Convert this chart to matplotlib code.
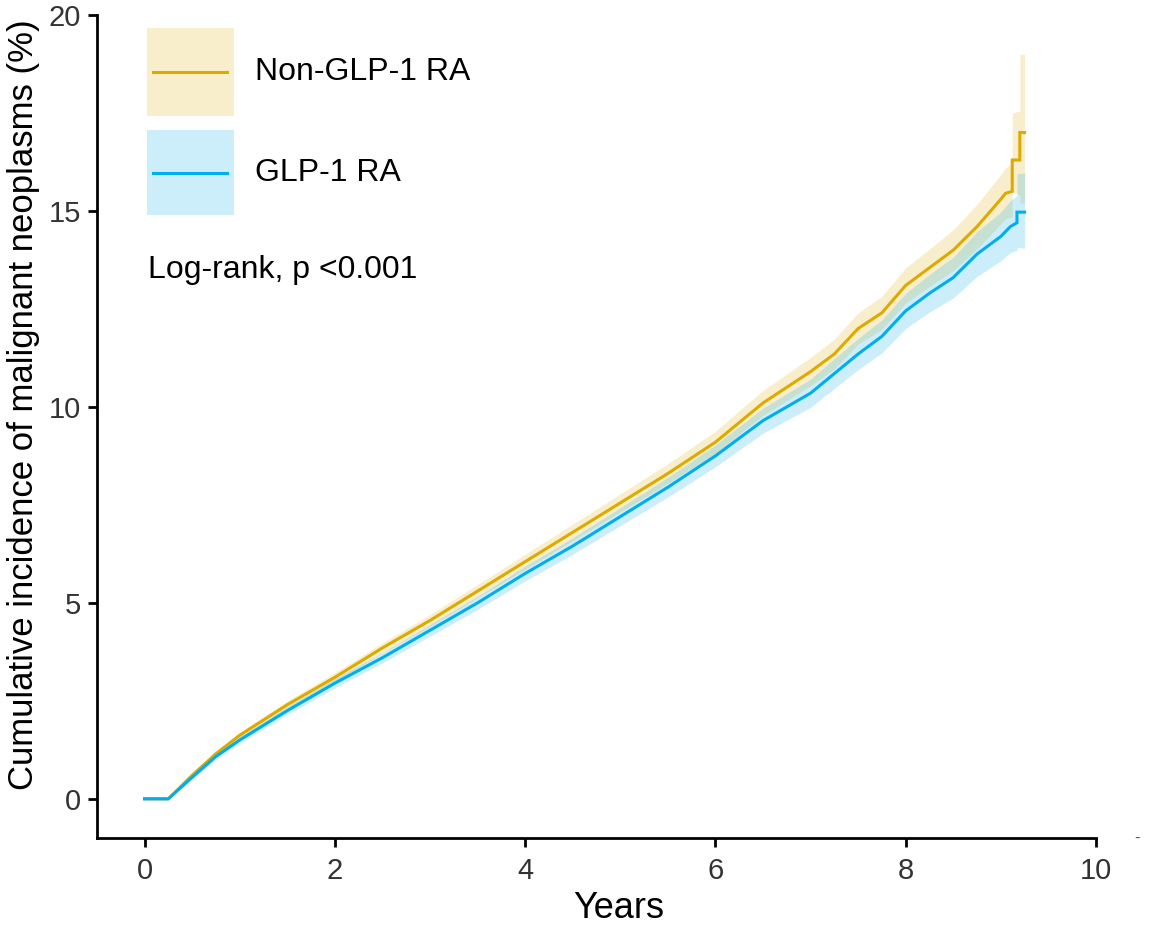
import matplotlib
matplotlib.use("Agg")
import matplotlib.pyplot as plt
from matplotlib.patches import Rectangle
from matplotlib.lines import Line2D

plt.rcParams['font.family'] = ['Liberation Sans', 'DejaVu Sans']

# ---- data ----
groups = ["Non-GLP-1 RA", "GLP-1 RA"]
colors = ["#DDAA00", "#00AEEF"]

t_non = [0, 0.25, 0.5, 0.75, 1, 1.5, 2, 2.5, 3, 3.5, 4, 4.5, 5, 5.5, 6, 6.25, 6.5, 6.75,
         7, 7.25, 7.5, 7.75, 8, 8.25, 8.5, 8.75, 9, 9.05, 9.12, 9.12, 9.2, 9.2, 9.25]
y_non = [0, 0, 0.6, 1.15, 1.62, 2.4, 3.1, 3.85, 4.55, 5.3, 6.05, 6.8, 7.55, 8.3, 9.1, 9.6,
         10.1, 10.5, 10.9, 11.35, 12.0, 12.4, 13.1, 13.55, 14.0, 14.6, 15.3, 15.45, 15.5,
         16.3, 16.3, 17.0, 17.0]
lo_non = [0, 0, 0.55, 1.08, 1.54, 2.3, 2.98, 3.72, 4.4, 5.13, 5.86, 6.59, 7.32, 8.05, 8.82,
          9.3, 9.78, 10.16, 10.54, 10.97, 11.6, 11.98, 12.65, 13.07, 13.48, 14.03, 14.67,
          14.8, 14.85, 15.5, 15.4, 15.2, 15.2]
hi_non = [0, 0, 0.65, 1.22, 1.7, 2.5, 3.22, 3.98, 4.7, 5.47, 6.24, 7.01, 7.78, 8.55, 9.38,
          9.9, 10.42, 10.84, 11.26, 11.73, 12.4, 12.82, 13.55, 14.03, 14.52, 15.17, 15.93,
          16.1, 16.2, 17.5, 17.55, 19.0, 19.0]

t_glp = [0, 0.25, 0.5, 0.75, 1, 1.5, 2, 2.5, 3, 3.5, 4, 4.5, 5, 5.5, 6, 6.25, 6.5, 6.75,
         7, 7.25, 7.5, 7.75, 8, 8.25, 8.5, 8.75, 9, 9.1, 9.17, 9.17, 9.25]
y_glp = [0, 0, 0.55, 1.08, 1.5, 2.25, 2.95, 3.6, 4.3, 5.0, 5.75, 6.45, 7.2, 7.95, 8.75, 9.2,
         9.65, 10.0, 10.35, 10.85, 11.35, 11.8, 12.45, 12.9, 13.3, 13.9, 14.35, 14.6, 14.7,
         14.97, 14.97]
lo_glp = [0, 0, 0.5, 1.01, 1.42, 2.15, 2.83, 3.47, 4.15, 4.83, 5.56, 6.24, 6.97, 7.7, 8.47,
          8.9, 9.33, 9.66, 9.99, 10.47, 10.95, 11.38, 12.0, 12.42, 12.78, 13.33, 13.73,
          13.94, 14.0, 14.07, 14.05]
hi_glp = [0, 0, 0.6, 1.15, 1.58, 2.35, 3.07, 3.73, 4.45, 5.17, 5.94, 6.66, 7.43, 8.2, 9.03,
          9.5, 9.97, 10.34, 10.71, 11.23, 11.75, 12.22, 12.9, 13.38, 13.82, 14.47, 14.97,
          15.26, 15.4, 15.95, 15.97]

x_ticks = [0, 2, 4, 6, 8, 10]
y_ticks = [0, 5, 10, 15, 20]
annotation = "Log-rank, p <0.001"
x_label = "Years"
y_label = "Cumulative incidence of malignant neoplasms (%)"

# ---- figure ----
fig = plt.figure(figsize=(11.5, 9.26), dpi=100)
ax = fig.add_axes([0.0843, 0.095, 0.8687, 0.8888])

series = [(t_non, y_non, lo_non, hi_non), (t_glp, y_glp, lo_glp, hi_glp)]
for (t, y, lo, hi), c in zip(series, colors):
    ax.fill_between(t, lo, hi, color=c, alpha=0.2, linewidth=0)
for (t, y, lo, hi), c in zip(series, colors):
    ax.plot(t, y, color=c, linewidth=2.2, solid_joinstyle='miter')

ax.set_xlim(-0.5, 10)
ax.set_ylim(-1, 20)
ax.set_xticks(x_ticks)
ax.set_yticks(y_ticks)
for s in ['top', 'right']:
    ax.spines[s].set_visible(False)
for s in ['left', 'bottom']:
    ax.spines[s].set_linewidth(2.0)
ax.tick_params(axis='both', which='major', length=6.5, width=2.0, color='black',
               labelsize=21, labelcolor='#333333')
ax.tick_params(axis='x', pad=7)
ax.tick_params(axis='y', pad=5)

fig.text(619 / 1150, 1 - 918 / 926, x_label, fontsize=26, ha='center', va='baseline')
fig.text(33 / 1150, 1 - 405 / 926, y_label, fontsize=25, ha='center', va='baseline',
         rotation=90, rotation_mode='anchor')

# legend drawn inside the axes
key_boxes = [(0.984, 0.877, 0.931), (0.860, 0.757, 0.808)]
for (top, bot, yl), c, lab in zip(key_boxes, colors, groups):
    ax.add_patch(Rectangle((0.050, bot), 0.087, top - bot, transform=ax.transAxes,
                           facecolor=c, alpha=0.2, edgecolor='none'))
    ax.add_line(Line2D([0.056, 0.130], [yl, yl], transform=ax.transAxes, color=c,
                       linewidth=2.2))
    ax.text(0.158, yl, lab, transform=ax.transAxes, fontsize=23, va='center', ha='left',
            color='black')

ax.text(0.051, 0.690, annotation, transform=ax.transAxes, fontsize=23, va='center',
        ha='left', color='black')

fig.text(1137 / 1150, 1 - 838 / 926, "-", fontsize=12, color='#555555', ha='center',
         va='center')

fig.savefig("out.png", dpi=100)
